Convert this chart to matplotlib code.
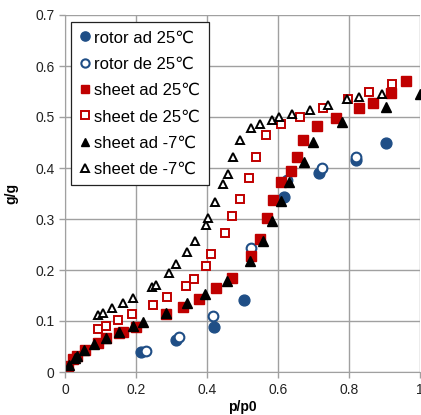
import matplotlib
matplotlib.use("Agg")
import matplotlib.pyplot as plt

plt.rcParams['font.family'] = ['Liberation Sans', 'DejaVu Sans']

# rotor ad 25C
rotor_ad_x = [0.214, 0.313, 0.42, 0.504, 0.617, 0.715, 0.82, 0.904]
rotor_ad_y = [0.039, 0.063, 0.088, 0.141, 0.343, 0.39, 0.416, 0.449]
# rotor de 25C
rotor_de_x = [0.228, 0.32, 0.418, 0.525, 0.625, 0.724, 0.82]
rotor_de_y = [0.041, 0.068, 0.11, 0.243, 0.376, 0.40, 0.422]
# sheet ad 25C
sheet_ad_x = [0.008, 0.022, 0.033, 0.056, 0.094, 0.115, 0.152, 0.164, 0.2, 0.284,
              0.332, 0.377, 0.425, 0.47, 0.524, 0.549, 0.569, 0.586, 0.608, 0.636,
              0.653, 0.67, 0.71, 0.763, 0.828, 0.868, 0.918, 0.96]
sheet_ad_y = [0.012, 0.025, 0.032, 0.043, 0.056, 0.066, 0.076, 0.079, 0.089, 0.114,
              0.127, 0.143, 0.165, 0.185, 0.228, 0.261, 0.302, 0.337, 0.373, 0.394,
              0.422, 0.455, 0.483, 0.498, 0.518, 0.527, 0.547, 0.571]
# sheet de 25C
sheet_de_x = [0.092, 0.115, 0.15, 0.188, 0.247, 0.288, 0.34, 0.363, 0.397, 0.41,
              0.45, 0.47, 0.493, 0.518, 0.537, 0.566, 0.608, 0.662, 0.727, 0.797,
              0.856, 0.921]
sheet_de_y = [0.084, 0.09, 0.102, 0.114, 0.131, 0.147, 0.168, 0.182, 0.208, 0.232,
              0.272, 0.306, 0.34, 0.38, 0.422, 0.465, 0.486, 0.50, 0.517, 0.535,
              0.549, 0.564]
# sheet ad -7C
cold_ad_x = [0.011, 0.028, 0.034, 0.054, 0.082, 0.115, 0.152, 0.192, 0.219, 0.284,
             0.343, 0.394, 0.456, 0.521, 0.558, 0.583, 0.608, 0.631, 0.673, 0.699,
             0.78, 0.904, 1.0]
cold_ad_y = [0.014, 0.027, 0.032, 0.043, 0.055, 0.067, 0.078, 0.09, 0.098, 0.116,
             0.135, 0.153, 0.179, 0.218, 0.256, 0.296, 0.335, 0.373, 0.412, 0.451,
             0.49, 0.519, 0.545]
# sheet de -7C
cold_de_x = [0.093, 0.107, 0.133, 0.164, 0.192, 0.246, 0.256, 0.293, 0.313, 0.344,
             0.366, 0.397, 0.403, 0.422, 0.445, 0.459, 0.473, 0.493, 0.524, 0.549,
             0.583, 0.603, 0.639, 0.69, 0.741, 0.794, 0.828, 0.893]
cold_de_y = [0.112, 0.115, 0.125, 0.135, 0.145, 0.166, 0.171, 0.195, 0.212, 0.235,
             0.257, 0.288, 0.302, 0.334, 0.369, 0.388, 0.422, 0.455, 0.478, 0.486,
             0.494, 0.50, 0.506, 0.514, 0.524, 0.535, 0.539, 0.545]

labels = ["rotor ad 25\u2103", "rotor de 25\u2103", "sheet ad 25\u2103",
          "sheet de 25\u2103", "sheet ad -7\u2103", "sheet de -7\u2103"]

blue = "#1F4E86"
red = "#C00000"

fig = plt.figure(figsize=(4.21, 4.15), dpi=100)
ax = fig.add_axes([65/421, 43/415, 355/421, 357/415])

ax.plot(rotor_ad_x, rotor_ad_y, 'o', ms=7.8, color=blue, mec=blue, ls='none', label=labels[0])
ax.plot(rotor_de_x, rotor_de_y, 'o', ms=7.0, mfc='white', mec=blue, mew=1.5, ls='none', label=labels[1])
ax.plot(sheet_ad_x, sheet_ad_y, 's', ms=6.5, color=red, mec=red, ls='none', label=labels[2])
ax.plot(sheet_de_x, sheet_de_y, 's', ms=6.0, mfc='white', mec=red, mew=1.4, ls='none', label=labels[3])
ax.plot(cold_ad_x, cold_ad_y, '^', ms=6.5, color='black', ls='none', label=labels[4])
ax.plot(cold_de_x, cold_de_y, '^', ms=6.0, mfc='white', mec='black', mew=1.4, ls='none', label=labels[5])

ax.set_xlim(0, 1.0)
ax.set_ylim(0, 0.7)
ax.set_xticks([0, 0.2, 0.4, 0.6, 0.8, 1.0])
ax.set_xticklabels(["0", "0.2", "0.4", "0.6", "0.8", "1"])
ax.set_yticks([0, 0.1, 0.2, 0.3, 0.4, 0.5, 0.6, 0.7])
ax.set_yticklabels(["0", "0.1", "0.2", "0.3", "0.4", "0.5", "0.6", "0.7"])
ax.grid(True, color="#A0A0A0", lw=1.0)
ax.set_axisbelow(True)
for s in ['top', 'right']:
    ax.spines[s].set_visible(False)
for s in ['left', 'bottom']:
    ax.spines[s].set_color("#A0A0A0")
ax.tick_params(axis='both', colors="#A0A0A0", labelcolor="#222222", labelsize=10, length=4, width=1)
ax.tick_params(axis='x', pad=4)

ax.set_xlabel("p/p0", fontsize=10, fontweight='bold', labelpad=2)
ax.set_ylabel("g/g", fontsize=10, fontweight='bold', labelpad=12)

leg = ax.legend(loc='upper left', bbox_to_anchor=(6/355, 1 - 7/357), fontsize=12,
                frameon=True, fancybox=False, edgecolor='#222222', framealpha=1,
                handlelength=0.7, handletextpad=0.2, borderpad=0.5, labelspacing=0.68,
                borderaxespad=0, markerscale=0.85)
leg.get_frame().set_linewidth(0.9)

fig.savefig("out.png", dpi=100)
